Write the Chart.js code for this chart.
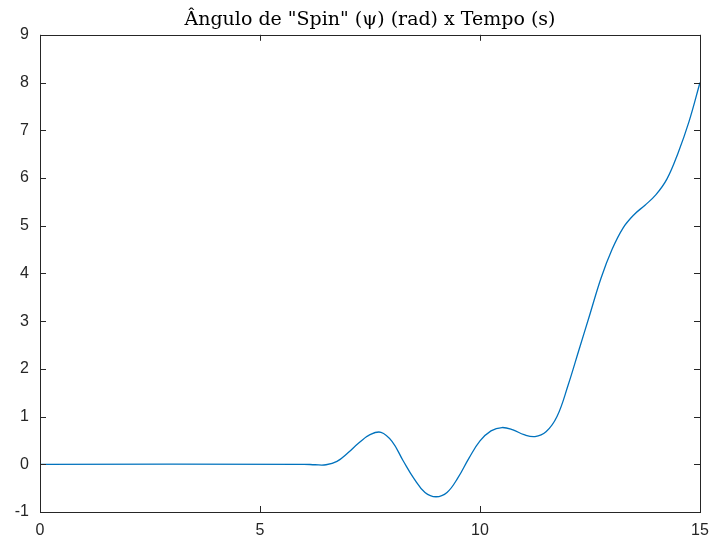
<!DOCTYPE html>
<html>
<head>
<meta charset="utf-8">
<script src="https://cdn.jsdelivr.net/npm/chart.js@4/dist/chart.umd.min.js"></script>
<style>
html,body{margin:0;padding:0;background:#fff;}
#wrap{width:714px;height:544px;position:relative;}
</style>
</head>
<body>
<div id="wrap"><canvas id="c" width="714" height="544"></canvas></div>
<script>
const timeValues = [0, 6.0, 6.25, 6.5, 6.75, 7.0, 7.25, 7.5, 7.75, 8.0, 8.25, 8.5, 8.75, 9.0, 9.25, 9.5, 9.75, 10.0, 10.25, 10.5, 10.75, 11.0, 11.25, 11.5, 11.75, 12.0, 12.25, 12.5, 12.75, 13.0, 13.25, 13.5, 13.75, 14.0, 14.25, 14.5, 14.75, 15.0];
const psiValues = [0, 0, -0.01, -0.01, 0.06, 0.24, 0.45, 0.62, 0.67, 0.48, 0.08, -0.30, -0.59, -0.68, -0.59, -0.28, 0.13, 0.49, 0.70, 0.77, 0.72, 0.62, 0.58, 0.68, 1.00, 1.65, 2.40, 3.15, 3.90, 4.50, 4.95, 5.23, 5.43, 5.65, 5.98, 6.52, 7.18, 8.0];
const xTicks = [0, 5, 10, 15];
const yTicks = [-1, 0, 1, 2, 3, 4, 5, 6, 7, 8, 9];
const titleText = 'Ângulo de "Spin" (ψ) (rad) x Tempo (s)';

const points = timeValues.map((t, i) => ({x: t, y: psiValues[i]}));

const boxPlugin = {
  id: 'box',
  afterDatasetsDraw(chart) {
    const {ctx, chartArea: a, scales} = chart;
    ctx.save();
    ctx.strokeStyle = '#262626';
    ctx.lineWidth = 1;
    ctx.strokeRect(Math.round(a.left) + 0.5, Math.round(a.top) + 0.5, Math.round(a.right - a.left), Math.round(a.bottom - a.top));
    const tl = 6;
    ctx.beginPath();
    xTicks.forEach(v => {
      const px = Math.round(scales.x.getPixelForValue(v)) + 0.5;
      ctx.moveTo(px, a.bottom); ctx.lineTo(px, a.bottom - tl);
      ctx.moveTo(px, a.top); ctx.lineTo(px, a.top + tl);
    });
    yTicks.forEach(v => {
      const py = Math.round(scales.y.getPixelForValue(v)) + 0.5;
      ctx.moveTo(a.left, py); ctx.lineTo(a.left + tl, py);
      ctx.moveTo(a.right, py); ctx.lineTo(a.right - tl, py);
    });
    ctx.stroke();
    ctx.restore();
  }
};

new Chart(document.getElementById('c'), {
  type: 'line',
  data: {
    datasets: [{
      data: points,
      borderColor: '#0072BD',
      borderWidth: 1.3,
      pointRadius: 0,
      fill: false,
      tension: 0.4
    }]
  },
  options: {
    responsive: false,
    animation: false,
    devicePixelRatio: 1,
    layout: {padding: {left: 0, right: 14, top: 0, bottom: 0}},
    plugins: {
      legend: {display: false},
      tooltip: {enabled: false},
      title: {
        display: true,
        text: titleText,
        fullSize: false,
        color: '#000',
        font: {family: '"DejaVu Serif", "Liberation Serif", serif', size: 19, weight: 'normal'},
        padding: {top: 9, bottom: 3}
      }
    },
    scales: {
      x: {
        type: 'linear',
        min: 0, max: 15,
        afterBuildTicks: s => { s.ticks = xTicks.map(v => ({value: v})); },
        afterFit: s => { s.height = 32; s.paddingLeft = 0; s.paddingRight = 0; },
        grid: {display: false, drawTicks: false},
        border: {display: false},
        ticks: {color: '#262626', font: {family: '"Liberation Sans", Arial, sans-serif', size: 16}, padding: 9, maxRotation: 0}
      },
      y: {
        type: 'linear',
        min: -1, max: 9,
        afterBuildTicks: s => { s.ticks = yTicks.map(v => ({value: v})); },
        afterFit: s => { s.width = 40; s.paddingTop = 0; s.paddingBottom = 0; },
        grid: {display: false, drawTicks: false},
        border: {display: false},
        ticks: {color: '#262626', font: {family: '"Liberation Sans", Arial, sans-serif', size: 16}, padding: 11}
      }
    }
  },
  plugins: [boxPlugin]
});
</script>
</body>
</html>
